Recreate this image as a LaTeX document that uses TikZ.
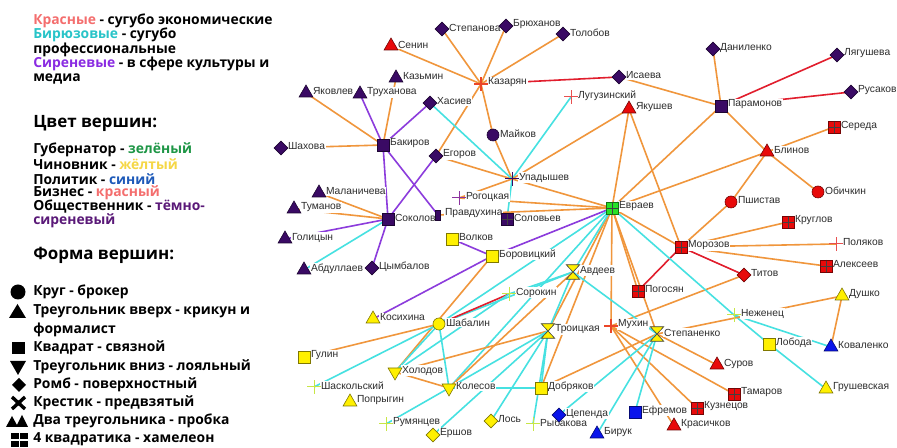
\documentclass[tikz,border=0pt]{standalone}
\usepackage{fontspec}
\setmainfont{Liberation Sans}
\newfontfamily\legfont{Open Sans}
\usetikzlibrary{shapes.geometric}
\newlength\px\setlength\px{0.75pt}
\definecolor{pv}{RGB}{58,10,100}
\definecolor{rd}{RGB}{232,10,10}
\definecolor{yl}{RGB}{255,240,0}
\definecolor{bl}{RGB}{10,20,235}
\definecolor{gr}{RGB}{40,225,40}
\definecolor{eo}{RGB}{240,150,60}
\definecolor{ec}{RGB}{70,225,225}
\definecolor{ep}{RGB}{140,60,220}
\definecolor{er}{RGB}{225,30,45}
\definecolor{lbc}{RGB}{45,45,45}
\definecolor{xy}{RGB}{200,230,70}
\definecolor{xr}{RGB}{232,80,80}
\definecolor{xk}{RGB}{235,70,40}
\definecolor{xv}{RGB}{140,50,160}
\definecolor{lred}{RGB}{244,110,110}
\definecolor{lteal}{RGB}{40,196,200}
\definecolor{lvio}{RGB}{138,43,226}
\definecolor{lgreen}{RGB}{30,150,70}
\definecolor{lyel}{RGB}{245,215,70}
\definecolor{lblue}{RGB}{30,90,185}
\definecolor{ldpur}{RGB}{90,25,120}
\pgfdeclarelayer{bg}\pgfdeclarelayer{edges}\pgfdeclarelayer{labels}
\pgfsetlayers{bg,edges,labels,main}
\tikzset{
  sq/.style={rectangle, minimum size=12\px, inner sep=0pt, fill=#1, draw=#1!50!black, line width=0.6\px},
  cir/.style={circle, minimum size=12\px, inner sep=0pt, fill=#1, draw=#1!50!black, line width=0.6\px},
  tu/.style={regular polygon, regular polygon sides=3, minimum size=16\px, inner sep=0pt, fill=#1, draw=#1!50!black, line width=0.6\px},
  td/.style={tu=#1, shape border rotate=180},
  dm/.style={diamond, minimum width=14\px, minimum height=14\px, inner sep=0pt, fill=#1, draw=#1!50!black, line width=0.6\px},
  qd/.style={sq=#1, path picture={\draw[line width=0.7\px, black!75] (path picture bounding box.north) -- (path picture bounding box.south) (path picture bounding box.west) -- (path picture bounding box.east);}},
  nr/.style={rectangle, minimum width=5\px, minimum height=10\px, inner sep=0pt, fill=#1, draw=#1!50!black, line width=0.6\px},
  xbox/.style={rectangle, minimum size=13\px, inner sep=0pt},
  hbox/.style={rectangle, minimum width=13\px, minimum height=14\px, inner sep=0pt},
  lab/.style={anchor=west, fill=white, inner sep=0.8\px, text=lbc, font=\fontsize{7.7}{9}\selectfont},
  oe/.style={draw=eo, line width=1.6\px},
  ce/.style={draw=ec, line width=1.6\px},
  pe/.style={draw=ep, line width=1.6\px},
  re/.style={draw=er, line width=1.6\px},
  leg/.style={anchor=west, inner sep=0pt, text=black, font=\legfont\bfseries\fontsize{10.4}{12}\selectfont},
  legh/.style={anchor=west, inner sep=0pt, text=black, font=\legfont\bfseries\fontsize{12.7}{14}\selectfont},
}
\newcommand\lbl[2]{\begin{pgfonlayer}{labels}\node[lab] (#1-t) at ([xshift=6\px,yshift=1.5\px]#1.center) {#2};\end{pgfonlayer}}
\newcommand\vtx[5]{\node[#4] (#1) at (#2,#3) {};\lbl{#1}{#5}}
\newcommand\vtxx[5]{\node[xbox] (#1) at (#2,#3) {};\draw[#4] (#1.north)--(#1.south) (#1.west)--(#1.east);\lbl{#1}{#5}}
\newcommand\vtxh[4]{\node[hbox] (#1) at (#2,#3) {};\draw[fill=yl,draw=black!75,line width=0.6\px] (#1.north west)--(#1.north east)--(#1.south west)--(#1.south east)--cycle;\lbl{#1}{#4}}
\begin{document}
\begin{tikzpicture}[x=0.75pt,y=-0.75pt]
\begin{pgfonlayer}{bg}
\fill[white] (0,0) rectangle (897,448);
\end{pgfonlayer}
\useasboundingbox (0,0) rectangle (897,448);
% ---------------- legend
\node[leg] at (33,21) {\textcolor{lred}{Красные} - сугубо экономические};
\node[leg] at (33,35) {\textcolor{lteal}{Бирюзовые} - сугубо};
\node[leg] at (33,50) {профессиональные};
\node[leg] at (33,64) {\textcolor{lvio}{Сиреневые} - в сфере культуры и};
\node[leg] at (33,79) {медиа};
\node[legh] at (33,123) {Цвет вершин:};
\node[leg] at (33,150) {Губернатор - \textcolor{lgreen}{зелёный}};
\node[leg] at (33,164) {Чиновник - \textcolor{lyel}{жёлтый}};
\node[leg] at (33,179) {Политик - \textcolor{lblue}{синий}};
\node[leg] at (33,193) {Бизнес - \textcolor{lred}{красный}};
\node[leg] at (33,207) {Общественник - \textcolor{ldpur}{тёмно-}};
\node[leg] at (33,221) {\textcolor{ldpur}{сиреневый}};
\node[legh] at (33,255) {Форма вершин:};
\node[leg] at (33,292) {Круг - брокер};
\node[leg] at (33,311) {Треугольник вверх - крикун и};
\node[leg] at (33,330) {формалист};
\node[leg] at (33,348) {Квадрат - связной};
\node[leg] at (33,367) {Треугольник вниз - лояльный};
\node[leg] at (33,385) {Ромб - поверхностный};
\node[leg] at (33,403) {Крестик - предвзятый};
\node[leg] at (33,421) {Два треугольника - пробка};
\node[leg] at (33,439) {4 квадратика - хамелеон};
\fill (18,292) circle (7.5\px);
\fill (9,318) -- (26,318) -- (17.5,304) -- cycle;
\fill (12,342) rectangle (25,354);
\fill (10,361) -- (26,361) -- (18,375) -- cycle;
\fill (19,378) -- (26,385) -- (19,392) -- (12,385) -- cycle;
\draw[line width=3.4\px] (12,397)--(25,409) (12,409)--(25,397);
\fill (6,427) -- (12,416) -- (18,427) -- cycle;
\fill (16,427) -- (22,415) -- (28,427) -- cycle;
\fill (11,433) rectangle (18.5,439.5);
\fill (20,433) rectangle (27.5,439.5);
\fill (11,441) rectangle (18.5,447.5);
\fill (20,441) rectangle (27.5,447.5);
% ---------------- vertices
\vtx{stepanova}{442}{29}{dm=pv}{Степанова}
\vtx{bryukhanov}{506}{26}{dm=pv}{Брюханов}
\vtx{tolobov}{563}{34}{dm=pv}{Толобов}
\vtx{senin}{391}{46}{tu=rd}{Сенин}
\vtx{kazmin}{396}{78}{tu=pv}{Казьмин}
\vtxx{kazaryan}{481}{84}{draw=xk,line width=1.4\px}{Казарян}
\vtx{yakovlev}{306}{93}{tu=pv}{Яковлев}
\vtx{trukhanova}{360}{94}{tu=pv}{Труханова}
\vtx{khasiev}{430}{103}{dm=pv}{Хасиев}
\vtx{maykov}{493}{135}{cir=pv}{Майков}
\vtx{shakhova}{281}{148}{dm=pv}{Шахова}
\vtx{bakirov}{383}{145}{sq=pv}{Бакиров}
\vtx{egorov}{436}{156}{dm=pv}{Егоров}
\vtxx{luguz}{571}{97}{draw=xr,line width=1\px}{Лугузинский}
\vtx{isaeva}{619}{77}{dm=pv}{Исаева}
\vtx{danilenko}{713}{49}{dm=pv}{Даниленко}
\vtx{lyagusheva}{837}{55}{dm=pv}{Лягушева}
\vtx{rusakov}{851}{92}{dm=pv}{Русаков}
\vtx{yakushev}{629}{109}{tu=rd}{Якушев}
\vtx{paramonov}{721}{106}{sq=pv}{Парамонов}
\vtx{sereda}{834}{127}{qd=rd}{Середа}
\vtx{blinov}{767}{152}{tu=rd}{Блинов}
\vtxx{upadyshev}{512}{179}{draw=pv,line width=1\px}{Упадышев}
\vtx{malanicheva}{319}{193}{tu=pv}{Маланичева}
\vtxx{rogotskaya}{459}{198}{draw=xv,line width=1\px}{Рогоцкая}
\vtx{tumanov}{294}{209}{tu=pv}{Туманов}
\vtx{sokolov}{388}{219}{sq=pv}{Соколов}
\vtx{pravdukhina}{438}{215}{nr=pv}{Правдухина}
\vtx{solovyev}{507}{219}{qd=pv}{Соловьев}
\vtx{golitsyn}{285}{239}{tu=pv}{Голицын}
\vtx{volkov}{452}{239}{sq=yl}{Волков}
\vtx{borovitsky}{492}{256}{sq=yl}{Боровицкий}
\vtx{abdullaev}{304}{270}{tu=pv}{Абдуллаев}
\vtx{tsymbalov}{372}{268}{dm=pv}{Цымбалов}
\vtx{evraev}{612}{208}{qd=gr}{Евраев}
\vtx{obichkin}{818}{192}{cir=rd}{Обичкин}
\vtx{pshistav}{731}{202}{cir=rd}{Пшистав}
\vtx{kruglov}{788}{222}{qd=rd}{Круглов}
\vtx{morozov}{681}{247}{qd=rd}{Морозов}
\vtxx{polyakov}{836}{244}{draw=xr,line width=1\px}{Поляков}
\vtx{alekseev}{826}{266}{qd=rd}{Алексеев}
\vtx{titov}{744}{275}{dm=rd}{Титов}
\vtx{pogosyan}{638}{291}{qd=rd}{Погосян}
\vtxh{avdeev}{573}{272}{Авдеев}
\vtxx{sorokin}{509}{294}{draw=xy,line width=1\px}{Сорокин}
\vtx{dushko}{842}{296}{tu=yl}{Душко}
\vtx{kosikhina}{373}{319}{tu=yl}{Косихина}
\vtx{shabalin}{439}{324}{cir=yl}{Шабалин}
\vtxh{troitskaya}{548}{331}{Троицкая}
\vtxx{mukhin}{611}{326}{draw=xk,line width=1.2\px}{Мухин}
\vtxh{stepanenko}{657}{334}{Степаненко}
\vtxx{nezhenets}{734}{315}{draw=xy,line width=1\px}{Неженец}
\vtx{loboda}{769}{344}{sq=yl}{Лобода}
\vtx{kovalenko}{831}{347}{tu=bl}{Коваленко}
\vtx{gulin}{304}{357}{sq=yl}{Гулин}
\vtx{kholodov}{395}{372}{td=yl}{Холодов}
\vtx{surov}{717}{365}{tu=rd}{Суров}
\vtxx{shaskolsky}{314}{387}{draw=xy,line width=1\px}{Шаскольский}
\vtx{kolesov}{449}{388}{td=yl}{Колесов}
\vtx{dobryakov}{541}{388}{sq=yl}{Добряков}
\vtx{grushevskaya}{826}{389}{tu=yl}{Грушевская}
\vtx{tamarov}{734}{394}{qd=rd}{Тамаров}
\vtx{poprygin}{350}{402}{tu=yl}{Попрыгин}
\vtx{kuznetsov}{697}{408}{qd=rd}{Кузнецов}
\vtx{efremov}{635}{412}{sq=bl}{Ефремов}
\vtx{tsependa}{559}{415}{dm=bl}{Цепенда}
\vtx{los}{491}{421}{dm=yl}{Лось}
\vtxx{rumyantsev}{386}{424}{draw=xy,line width=1\px}{Румянцев}
\vtxx{rybakova}{533}{424}{draw=xy,line width=1\px}{Рыбакова}
\vtx{krasichkov}{674}{426}{tu=rd}{Красичков}
\vtx{biruk}{597}{434}{tu=bl}{Бирук}
\vtx{ershov}{433}{435}{dm=yl}{Ершов}
% ---------------- edges
\begin{pgfonlayer}{edges}
\draw[oe] (senin.center) -- (kazaryan.center);
\draw[oe] (stepanova.center) -- (kazaryan.center);
\draw[oe] (bryukhanov.center) -- (kazaryan.center);
\draw[oe] (tolobov.center) -- (kazaryan.center);
\draw[re] (kazaryan.center) -- (isaeva.center);
\draw[oe] (kazaryan.center) -- (egorov.center);
\draw[oe] (kazaryan.center) -- (maykov.center);
\draw[oe] (maykov.center) -- (upadyshev.center);
\draw[oe] (egorov.center) -- (upadyshev.center);
\draw[ce] (khasiev.center) -- (upadyshev.center);
\draw[ce] (luguz.center) -- (upadyshev.center);
\draw[ce] (upadyshev.center) -- (solovyev.center);
\draw[oe] (upadyshev.center) -- (yakushev.center);
\draw[oe] (upadyshev.center) -- (evraev.center);
\draw[oe] (rogotskaya.center) -- (upadyshev.center);
\draw[oe] (rogotskaya.center) -- (evraev.center);
\draw[oe] (pravdukhina.center) -- (evraev.center);
\draw[pe] (khasiev.center) -- (bakirov.center);
\draw[oe] (yakovlev.center) -- (bakirov.center);
\draw[pe] (trukhanova.center) -- (bakirov.center);
\draw[oe] (kazmin.center) -- (bakirov.center);
\draw[oe] (shakhova.center) -- (bakirov.center);
\draw[pe] (bakirov.center) -- (sokolov.center);
\draw[pe] (bakirov.center) -- (pravdukhina.center);
\draw[pe] (egorov.center) -- (sokolov.center);
\draw[oe] (malanicheva.center) -- (sokolov.center);
\draw[oe] (tumanov.center) -- (sokolov.center);
\draw[pe] (golitsyn.center) -- (sokolov.center);
\draw[ce] (abdullaev.center) -- (sokolov.center);
\draw[pe] (tsymbalov.center) -- (sokolov.center);
\draw[oe] (isaeva.center) -- (paramonov.center);
\draw[oe] (danilenko.center) -- (paramonov.center);
\draw[re] (lyagusheva.center) -- (paramonov.center);
\draw[re] (rusakov.center) -- (paramonov.center);
\draw[oe] (paramonov.center) -- (blinov.center);
\draw[oe] (paramonov.center) -- (evraev.center);
\draw[oe] (sereda.center) -- (blinov.center);
\draw[oe] (blinov.center) -- (evraev.center);
\draw[oe] (blinov.center) -- (pshistav.center);
\draw[oe] (pshistav.center) -- (morozov.center);
\draw[oe] (blinov.center) -- (obichkin.center);
\draw[oe] (yakushev.center) -- (evraev.center);
\draw[oe] (yakushev.center) -- (morozov.center);
\draw[oe] (evraev.center) -- (morozov.center);
\draw[oe] (morozov.center) -- (kruglov.center);
\draw[oe] (morozov.center) -- (polyakov.center);
\draw[oe] (morozov.center) -- (alekseev.center);
\draw[re] (morozov.center) -- (titov.center);
\draw[re] (morozov.center) -- (pogosyan.center);
\draw[oe] (titov.center) -- (mukhin.center);
\draw[pe] (evraev.center) -- (borovitsky.center);
\draw[pe] (borovitsky.center) -- (volkov.center);
\draw[pe] (borovitsky.center) -- (kosikhina.center);
\draw[oe] (borovitsky.center) -- (kholodov.center);
\draw[oe] (evraev.center) -- (mukhin.center);
\draw[ce] (evraev.center) -- (nezhenets.center);
\draw[ce] (nezhenets.center) -- (loboda.center);
\draw[ce] (nezhenets.center) -- (kovalenko.center);
\draw[ce] (loboda.center) -- (grushevskaya.center);
\draw[oe] (kovalenko.center) -- (dushko.center);
\draw[oe] (dushko.center) -- (stepanenko.center);
\draw[oe] (evraev.center) -- (stepanenko.center);
\draw[oe] (evraev.center) -- (pogosyan.center);
\draw[oe] (evraev.center) -- (troitskaya.center);
\draw[oe] (evraev.center) -- (dobryakov.center);
\draw[ce] (evraev.center) -- (avdeev.center);
\draw[ce] (evraev.center) -- (shabalin.center);
\draw[ce] (evraev.center) -- (kolesov.center);
\draw[ce] (avdeev.center) -- (stepanenko.center);
\draw[ce] (avdeev.center) -- (troitskaya.center);
\draw[ce] (sorokin.center) -- (avdeev.center);
\draw[ce] (shabalin.center) -- (avdeev.center);
\draw[re] (shabalin.center) -- (sorokin.center);
\draw[ce] (kholodov.center) -- (sorokin.center);
\draw[oe] (kolesov.center) -- (avdeev.center);
\draw[oe] (troitskaya.center) -- (kholodov.center);
\draw[oe] (shabalin.center) -- (gulin.center);
\draw[ce] (shabalin.center) -- (shaskolsky.center);
\draw[ce] (shabalin.center) -- (kholodov.center);
\draw[ce] (shabalin.center) -- (kolesov.center);
\draw[oe] (kholodov.center) -- (kolesov.center);
\draw[ce] (kolesov.center) -- (dobryakov.center);
\draw[ce] (kolesov.center) -- (rumyantsev.center);
\draw[ce] (troitskaya.center) -- (kolesov.center);
\draw[ce] (troitskaya.center) -- (ershov.center);
\draw[ce] (troitskaya.center) -- (los.center);
\draw[ce] (troitskaya.center) -- (rybakova.center);
\draw[ce] (troitskaya.center) -- (dobryakov.center);
\draw[oe] (stepanenko.center) -- (surov.center);
\draw[oe] (mukhin.center) -- (tamarov.center);
\draw[oe] (mukhin.center) -- (kuznetsov.center);
\draw[oe] (mukhin.center) -- (krasichkov.center);
\draw[oe] (stepanenko.center) -- (dobryakov.center);
\draw[ce] (stepanenko.center) -- (biruk.center);
\draw[ce] (stepanenko.center) -- (tsependa.center);
\draw[ce] (stepanenko.center) -- (efremov.center);
\end{pgfonlayer}
\end{tikzpicture}
\end{document}
